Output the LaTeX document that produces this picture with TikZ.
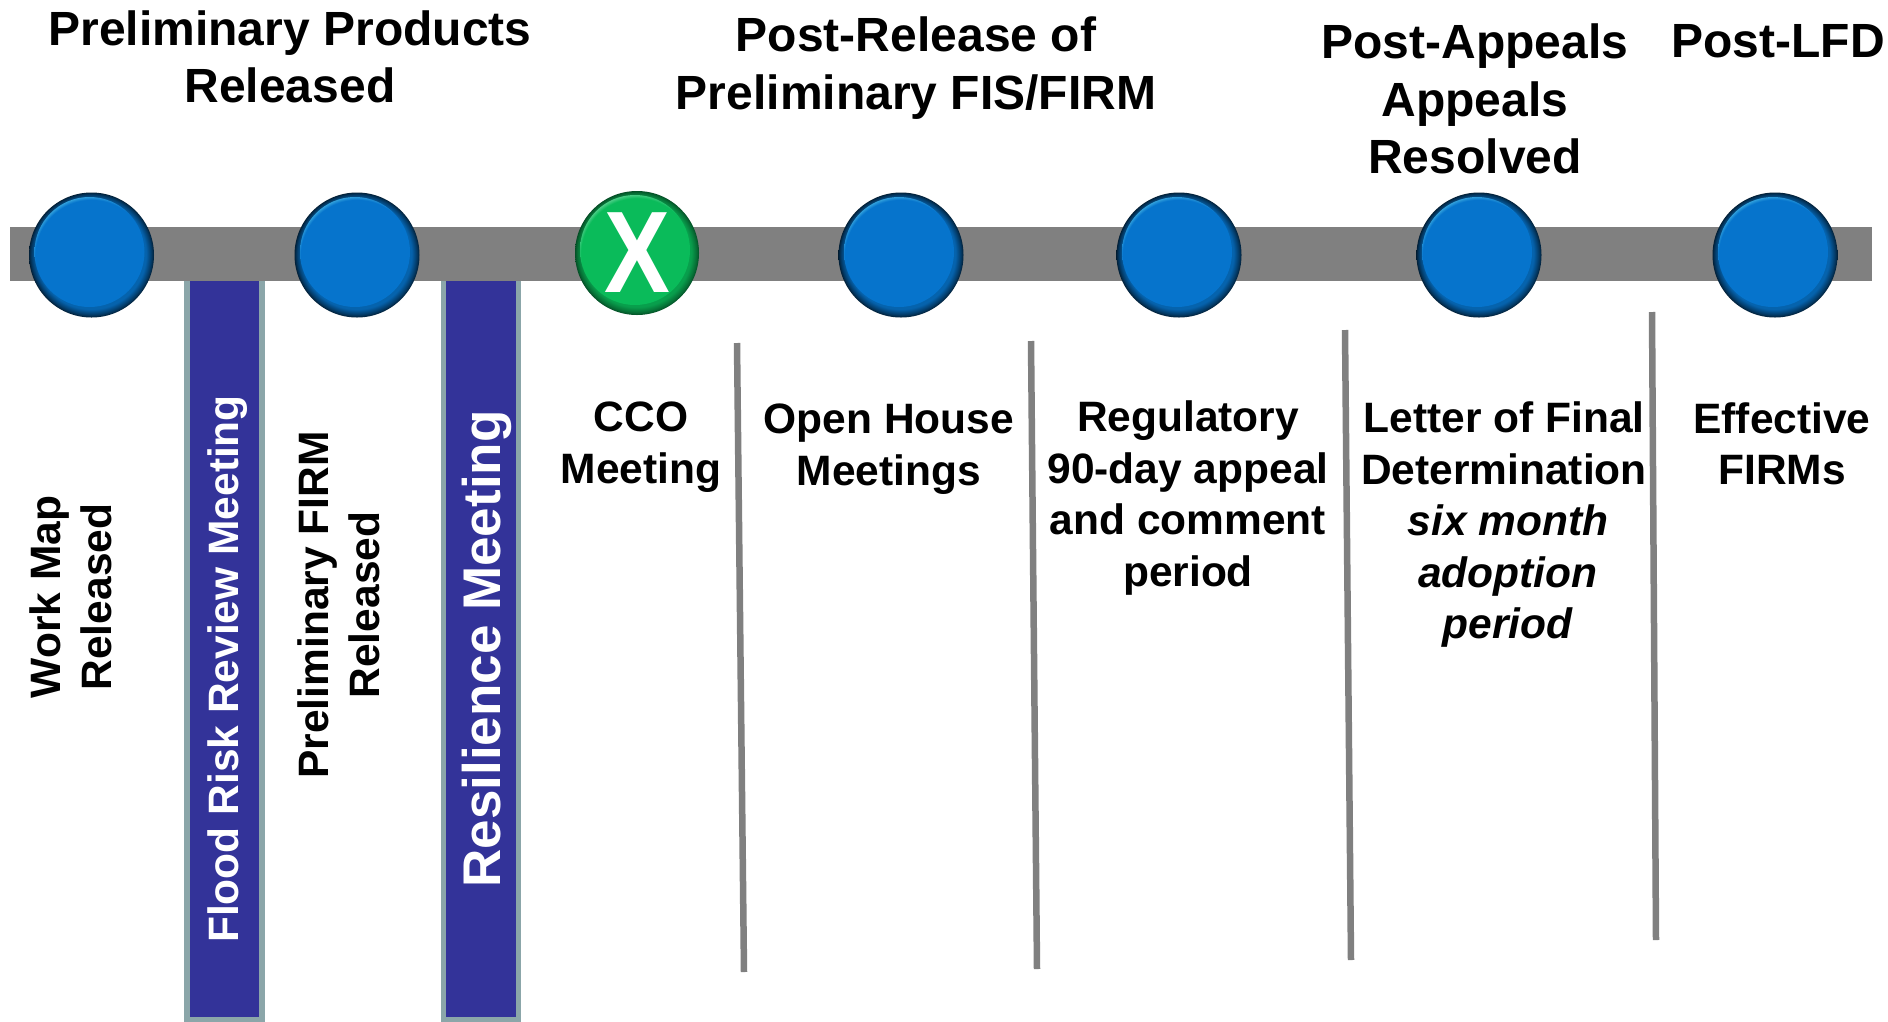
\documentclass[tikz,border=0pt]{standalone}
\usepackage{fontspec}
\setmainfont{Liberation Sans}
\definecolor{barGrey}{HTML}{808080}
\definecolor{barBlue}{HTML}{333399}
\definecolor{barEdge}{HTML}{8BA6A9}
\definecolor{beadBlue}{HTML}{0674CC}
\definecolor{beadGreen}{HTML}{0ABB5A}
% bead shadings: dark rim, then a lighter arc at the top
\pgfdeclareradialshading{rimBlue}{\pgfpoint{-1.2bp}{2bp}}{color(0bp)=(beadBlue!85!black); color(22bp)=(beadBlue!85!black); color(24bp)=(beadBlue!50!black); color(26bp)=(black!95!beadBlue)}
\pgfdeclareradialshading{topBlue}{\pgfpoint{-0.5bp}{-2.5bp}}{color(0bp)=(beadBlue); color(22.5bp)=(beadBlue); color(24.6bp)=(cyan!35!beadBlue!70!white); color(26.5bp)=(beadBlue!85!black)}
\pgfdeclareradialshading{rimGreen}{\pgfpoint{-1bp}{1.8bp}}{color(0bp)=(beadGreen!85!black); color(22bp)=(beadGreen!85!black); color(24bp)=(beadGreen!60!black); color(26bp)=(beadGreen!25!black)}
\pgfdeclareradialshading{topGreen}{\pgfpoint{-0.5bp}{-2.5bp}}{color(0bp)=(beadGreen); color(22.5bp)=(beadGreen); color(24.6bp)=(beadGreen!60!white); color(26.5bp)=(beadGreen!85!black)}
\tikzset{
  beadblue/.style={circle, minimum size=125pt, inner sep=0pt, shading=rimBlue,
    path picture={\shade[shading=topBlue] ([xshift=-2pt,yshift=3pt]path picture bounding box.center) circle (55pt);}},
  beadgreen/.style={circle, minimum size=124pt, inner sep=0pt, shading=rimGreen, text=white,
    font=\fontsize{116}{116}\selectfont\bfseries,
    path picture={\shade[shading=topGreen] ([xshift=-2pt,yshift=3pt]path picture bounding box.center) circle (55pt);}},
  heading/.style={align=center, inner sep=0pt, font=\fontsize{48}{57.5}\selectfont\bfseries},
  label/.style={align=center, inner sep=0pt, font=\fontsize{42.5}{51.5}\selectfont\bfseries},
  sidelabel/.style={label, rotate=90},
  meetbar/.style={draw=barEdge, line width=5.5pt, fill=barBlue},
  divider/.style={draw=barGrey, line width=6.5pt}
}
\begin{document}
\begin{tikzpicture}[x=1pt,y=-1pt]
  \useasboundingbox (0,0) rectangle (1888,1021);

  % meeting bars
  \draw[meetbar] (187,270) rectangle (262,1020);
  \draw[meetbar] (443.5,270) rectangle (518.5,1020);

  % timeline
  \fill[barGrey] (10,227) rectangle (1872,281);

  \node[rotate=90, text=white, inner sep=0pt, font=\fontsize{42.5}{50}\selectfont\bfseries] (floodRisk) at (228,669) {Flood Risk Review Meeting};
  \node[rotate=90, text=white, inner sep=0pt, font=\fontsize{53}{60}\selectfont\bfseries] (resilience) at (487,649) {Resilience Meeting};

  % beads
  \node[beadblue] (beadWork) at (91.5,255) {};
  \node[beadblue] (beadPrelim) at (357,255) {};
  \node[beadgreen] (beadCco) at (637,253) {\scalebox{.85}[1]{X}};
  \node[beadblue] (beadOpen) at (901,255) {};
  \node[beadblue] (beadAppeal) at (1179,255) {};
  \node[beadblue] (beadLetter) at (1479,255) {};
  \node[beadblue] (beadEffective) at (1775,255) {};

  % dividers
  \draw[divider] (737,343) -- (744,972);
  \draw[divider] (1031,341) -- (1037,969);
  \draw[divider] (1345,330) -- (1351,960);
  \draw[divider] (1652,312) -- (1656,940);

  % headings
  \node[heading] (headPrelim) at (290,57) {Preliminary Products\\Released};
  \node[heading] (headRelease) at (916,68) {Post-Release of\\Preliminary FIS/FIRM};
  \node[heading] (headAppeals) at (1475,99) {Post-Appeals\\Appeals\\Resolved};
  \node[heading] (headLfd) at (1778,41) {Post-LFD};

  % step labels
  \node[sidelabel] (workMap) at (71,597) {Work Map\\Released};
  \node[sidelabel] (prelimFirm) at (339,605) {Preliminary FIRM\\Released};
  \node[label] (cco) at (641,447) {CCO\\Meeting};
  \node[label] (openHouse) at (889,449) {Open House\\Meetings};
  \node[label] (regulatory) at (1188,498) {Regulatory\\90-day appeal\\and comment\\period};
  \node[label] (letter) at (1504,525) {Letter of Final\\Determination\\\hspace*{8pt}\textit{six month}\\\hspace*{8pt}\textit{adoption}\\\hspace*{8pt}\textit{period}};
  \node[label] (effective) at (1782,444) {Effective\\FIRMs};
\end{tikzpicture}
\end{document}
